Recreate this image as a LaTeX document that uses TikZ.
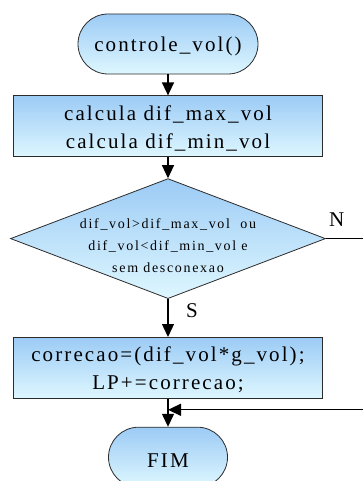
\documentclass[tikz,border=0pt]{standalone}
\usepackage{fontspec}
\setmainfont{Liberation Serif}
\newfontfamily\flowfont[LetterSpace=10]{Liberation Serif}
\newfontfamily\decfont[LetterSpace=12]{Liberation Serif}
\usetikzlibrary{arrows.meta,positioning,shapes.geometric}
\definecolor{fcborder}{HTML}{2B2B2B}
\definecolor{fctop}{HTML}{9CCBF5}
\definecolor{fcbot}{HTML}{DEF7FF}

\begin{document}
\begin{tikzpicture}[x=1pt,y=1pt,
  font=\flowfont\fontsize{21}{28}\selectfont,
  term/.style={rectangle, rounded corners=30pt, draw=fcborder, line width=0.8pt, top color=fctop, bottom color=fcbot, minimum height=60pt, inner sep=0pt, text height=20pt},
  proc/.style={rectangle, draw=fcborder, line width=0.8pt, top color=fctop, bottom color=fcbot, minimum width=309pt, minimum height=61pt, align=center, inner sep=0pt, text height=48pt, text depth=4pt},
  decis/.style={diamond, aspect=2.625, draw=fcborder, line width=0.8pt, top color=fctop, bottom color=fcbot, minimum width=315pt, minimum height=120pt, inner sep=-8pt, align=center, text height=68pt, text depth=0pt, font=\decfont\fontsize{14}{22}\selectfont},
  lab/.style={inner sep=0pt},
  arr/.style={-{Triangle[length=13pt,width=12pt]}, line width=1.3pt}]
\useasboundingbox (0,0) rectangle (362,-481);
\node[term, minimum width=180pt] (start) at (168,-44) {controle\_vol()};
\node[proc, below=21pt of start] (calc) {calcula dif\_max\_vol\\calcula dif\_min\_vol};
\node[decis, below=21pt of calc] (dec) {dif\_vol>dif\_max\_vol\ \ ou\\dif\_vol<dif\_min\_vol e\\sem desconexao};
\node[proc, below=38pt of dec] (corr) {correcao=(dif\_vol*g\_vol);\\LP+=correcao;};
\node[term, minimum width=119pt, below=28pt of corr] (fim) {FIM};
\coordinate[below=11pt of corr] (merge);
\coordinate[right=42pt of dec.east] (edge);
% labels of the decision
\node[lab, anchor=south west] (nlab) at ([xshift=3pt,yshift=12pt]dec.east) {N};
\node[lab, anchor=north west] (slab) at ([xshift=18pt,yshift=-4pt]dec.south) {S};
% connectors
\draw[arr] (start) -- (calc);
\draw[arr] (calc) -- (dec);
\draw[arr] (dec) -- (corr);
\draw[arr] (corr) -- (fim);
\draw[arr] (dec.east) -- (edge) |- (merge);
\end{tikzpicture}
\end{document}
